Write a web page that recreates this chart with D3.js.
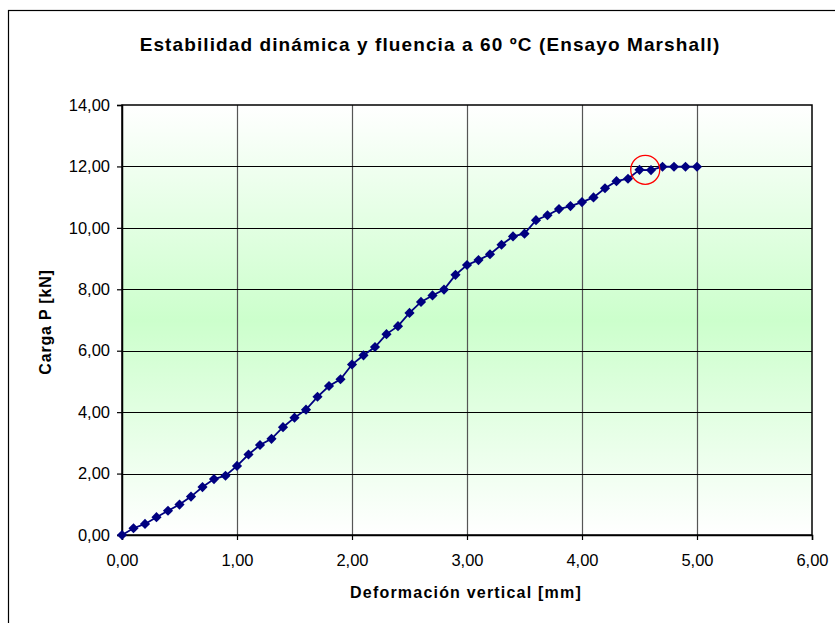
<!DOCTYPE html>
<html>
<head>
<meta charset="utf-8">
<style>
  body { margin: 0; background: #fff; }
  svg { display: block; }
</style>
</head>
<body>
<svg width="835" height="623"></svg>
<script src="https://d3js.org/d3.v7.min.js"></script>
<script>

// deformación vertical [mm]
var deformacion = [0.0, 0.1, 0.2, 0.3, 0.4, 0.5, 0.6, 0.7, 0.8, 0.9,
                   1.0, 1.1, 1.2, 1.3, 1.4, 1.5, 1.6, 1.7, 1.8, 1.9,
                   2.0, 2.1, 2.2, 2.3, 2.4, 2.5, 2.6, 2.7, 2.8, 2.9,
                   3.0, 3.1, 3.2, 3.3, 3.4, 3.5, 3.6, 3.7, 3.8, 3.9,
                   4.0, 4.1, 4.2, 4.3, 4.4, 4.5, 4.6, 4.7, 4.8, 4.9, 5.0];

// carga P [kN]
var carga = [0.00, 0.22, 0.36, 0.58, 0.79, 0.99, 1.25, 1.56, 1.82, 1.93,
             2.25, 2.62, 2.93, 3.13, 3.51, 3.82, 4.08, 4.50, 4.85, 5.07,
             5.55, 5.85, 6.12, 6.54, 6.80, 7.23, 7.59, 7.80, 7.99, 8.47,
             8.79, 8.95, 9.14, 9.45, 9.72, 9.81, 10.25, 10.41, 10.61, 10.71,
             10.84, 10.99, 11.29, 11.52, 11.60, 11.89, 11.88, 11.99, 11.99, 11.99, 11.99];

var xTicks = [0, 1, 2, 3, 4, 5, 6],
    yTicks = [0, 2, 4, 6, 8, 10, 12, 14];

// punto de rotura marcado con el círculo rojo
var rotura = {x: 4.55, y: 11.89};

var svg = d3.select("svg"),
    width = +svg.attr("width"),
    height = +svg.attr("height");

var pLeft = 122, pRight = 812, pTop = 105, pBottom = 535;

var x = d3.scaleLinear().domain([0, 6]).range([pLeft, pRight]),
    y = d3.scaleLinear().domain([0, 14]).range([pBottom, pTop]);

var fmt = function(d) { return d3.format(".2f")(d).replace(".", ","); };
var font = "Liberation Sans, Arial, sans-serif";

// chart frame
svg.append("rect")
    .attr("x", 8.5).attr("y", 10.5)
    .attr("width", width).attr("height", height)
    .attr("fill", "#fff")
    .attr("stroke", "#000")
    .attr("stroke-width", 1.2);

// plot area background
var grad = svg.append("defs").append("linearGradient")
    .attr("id", "bg").attr("x1", 0).attr("x2", 0).attr("y1", 0).attr("y2", 1);
grad.append("stop").attr("offset", "0%").attr("stop-color", "#ffffff");
grad.append("stop").attr("offset", "50%").attr("stop-color", "#ccffcc");
grad.append("stop").attr("offset", "100%").attr("stop-color", "#ffffff");

svg.append("rect")
    .attr("x", pLeft).attr("y", pTop)
    .attr("width", pRight - pLeft).attr("height", pBottom - pTop)
    .attr("fill", "url(#bg)");

// grid lines
svg.append("g")
  .selectAll("line")
  .data(xTicks.slice(1, -1))
  .enter().append("line")
    .attr("x1", function(d) { return Math.round(x(d)) + 0.5; })
    .attr("x2", function(d) { return Math.round(x(d)) + 0.5; })
    .attr("y1", pTop).attr("y2", pBottom)
    .attr("stroke", "#555").attr("stroke-width", 1.2);

svg.append("g")
  .selectAll("line")
  .data(yTicks.slice(1, -1))
  .enter().append("line")
    .attr("x1", pLeft).attr("x2", pRight)
    .attr("y1", function(d) { return Math.round(y(d)) + 0.5; })
    .attr("y2", function(d) { return Math.round(y(d)) + 0.5; })
    .attr("stroke", "#000").attr("stroke-width", 1.1);

svg.append("rect")
    .attr("x", pLeft).attr("y", pTop)
    .attr("width", pRight - pLeft).attr("height", pBottom - pTop)
    .attr("fill", "none")
    .attr("stroke", "#000")
    .attr("stroke-width", 1.5);

// axes
var xAxis = svg.append("g")
    .attr("transform", "translate(0," + pBottom + ")")
    .call(d3.axisBottom(x).tickValues(xTicks).tickFormat(fmt).tickSize(5).tickPadding(14));

var yAxis = svg.append("g")
    .attr("transform", "translate(" + pLeft + ",0)")
    .call(d3.axisLeft(y).tickValues(yTicks).tickFormat(fmt).tickSize(5).tickPadding(7));

[xAxis, yAxis].forEach(function(a) {
  a.select(".domain").attr("stroke", "#000").attr("stroke-width", 1.5);
  a.selectAll(".tick line").attr("stroke", "#000").attr("stroke-width", 1.2);
  a.selectAll(".tick text")
      .attr("font-family", font)
      .attr("font-size", 16.5)
      .attr("fill", "#000");
});

// series
var pts = deformacion.map(function(d, i) { return [d, carga[i]]; });

svg.append("path")
    .datum(pts)
    .attr("fill", "none")
    .attr("stroke", "#000080")
    .attr("stroke-width", 1.8)
    .attr("d", d3.line()
        .x(function(d) { return x(d[0]); })
        .y(function(d) { return y(d[1]); }));

svg.append("g")
    .attr("fill", "#000080")
  .selectAll("path")
  .data(pts)
  .enter().append("path")
    .attr("transform", function(d) { return "translate(" + x(d[0]) + "," + y(d[1]) + ")"; })
    .attr("d", d3.symbol().type(d3.symbolDiamond2).size(66));

svg.append("circle")
    .attr("cx", x(rotura.x))
    .attr("cy", y(rotura.y))
    .attr("r", 14.5)
    .attr("fill", "none")
    .attr("stroke", "#ff0000")
    .attr("stroke-width", 1.3);

// titles
svg.append("text")
    .attr("x", 430).attr("y", 51)
    .attr("text-anchor", "middle")
    .attr("font-family", font)
    .attr("font-weight", "bold")
    .attr("font-size", 19)
    .attr("letter-spacing", 1.1)
    .text("Estabilidad dinámica y fluencia a 60 ºC (Ensayo Marshall)");

svg.append("text")
    .attr("x", 466).attr("y", 598)
    .attr("text-anchor", "middle")
    .attr("font-family", font)
    .attr("font-weight", "bold")
    .attr("font-size", 16)
    .attr("letter-spacing", 1.2)
    .text("Deformación vertical [mm]");

svg.append("text")
    .attr("transform", "translate(51,322) rotate(-90)")
    .attr("text-anchor", "middle")
    .attr("font-family", font)
    .attr("font-weight", "bold")
    .attr("font-size", 16)
    .attr("letter-spacing", 0.8)
    .text("Carga P [kN]");

</script>
</body>
</html>
